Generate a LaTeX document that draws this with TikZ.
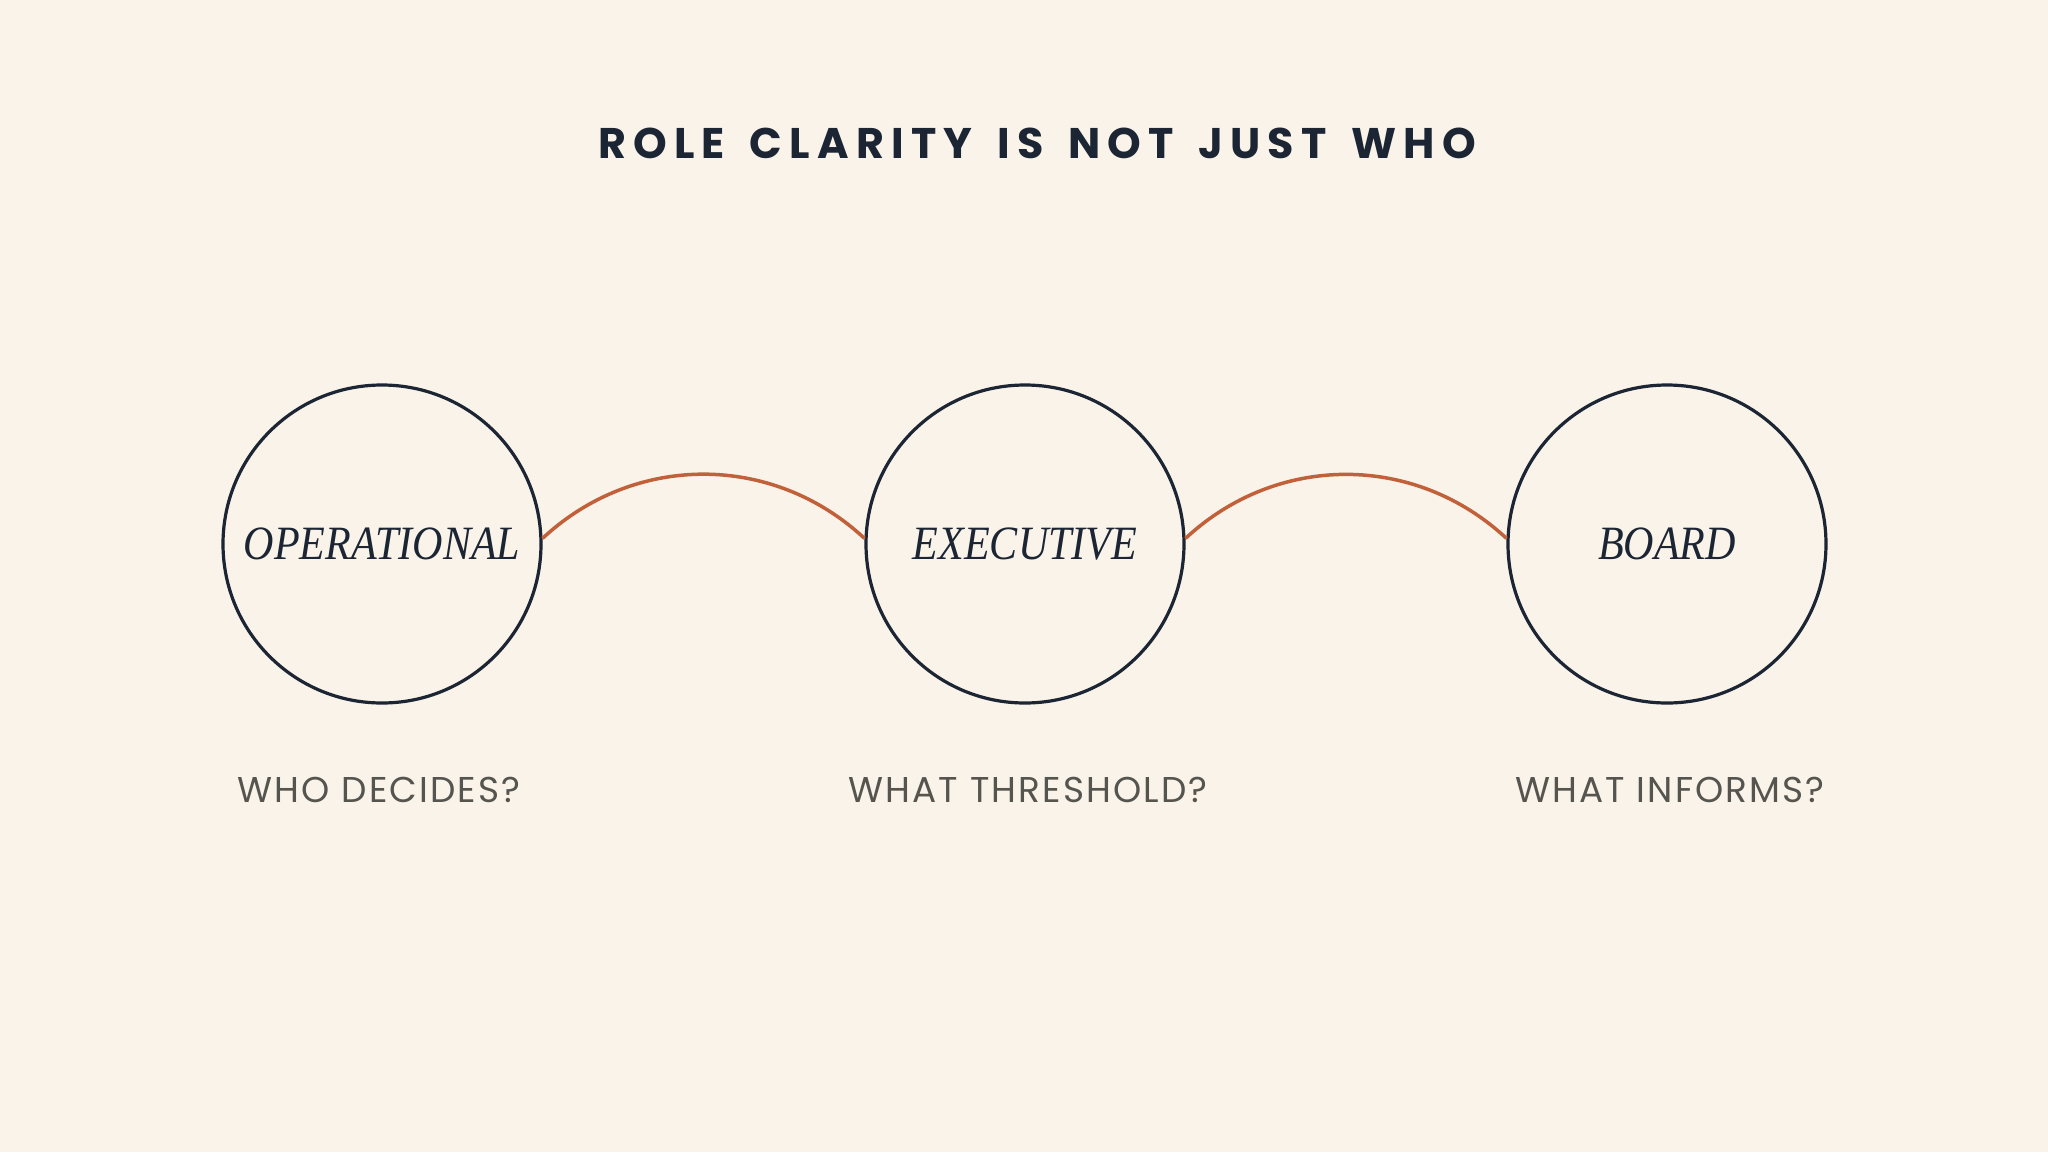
\documentclass[tikz,border=0pt]{standalone}
\usepackage{fontspec}
\newfontfamily\titlefont[LetterSpace=17,WordSpace=1.5]{Poppins}
\newfontfamily\rolefont[FakeStretch=0.88]{Liberation Serif}
\newfontfamily\labelfont[LetterSpace=6]{Poppins}
\definecolor{bgcol}{HTML}{F9F3E9}
\definecolor{navy}{HTML}{1C2533}
\definecolor{rust}{HTML}{C2603A}
\definecolor{labgray}{HTML}{55544F}
\tikzset{
  circ/.style={circle, draw=navy, line width=3.2bp, minimum size=318bp, inner sep=0pt, text=navy, font=\rolefont\itshape\fontsize{48}{52}\selectfont},
  arcline/.style={draw=rust, line width=3.5bp},
  heading/.style={anchor=base, text=navy, font=\titlefont\bfseries\fontsize{43}{48}\selectfont, inner sep=0pt},
  question/.style={anchor=base, text=labgray, font=\labelfont\fontsize{36}{40}\selectfont, inner sep=0pt}
}
\begin{document}
\begin{tikzpicture}[x=1bp, y=-1bp]
\fill[bgcol] (0,0) rectangle (2048,1152);
\useasboundingbox (0,0) rectangle (2048,1152);
\node[heading] (title) at (1037,158) {ROLE CLARITY IS NOT JUST WHO};
\node[circ] (c1) at (382,544) {OPERATIONAL};
\node[circ] (c2) at (1025,544) {EXECUTIVE};
\node[circ] (c3) at (1667,544) {BOARD};
\draw[arcline] (c1.2) to[bend left=43] (c2.178);
\draw[arcline] (c2.2) to[bend left=43] (c3.178);
\node[question] (q1) at (379,802) {WHO DECIDES?};
\node[question] (q2) at (1028,802) {WHAT THRESHOLD?};
\node[question] (q3) at (1670,802) {WHAT INFORMS?};
\end{tikzpicture}
\end{document}
